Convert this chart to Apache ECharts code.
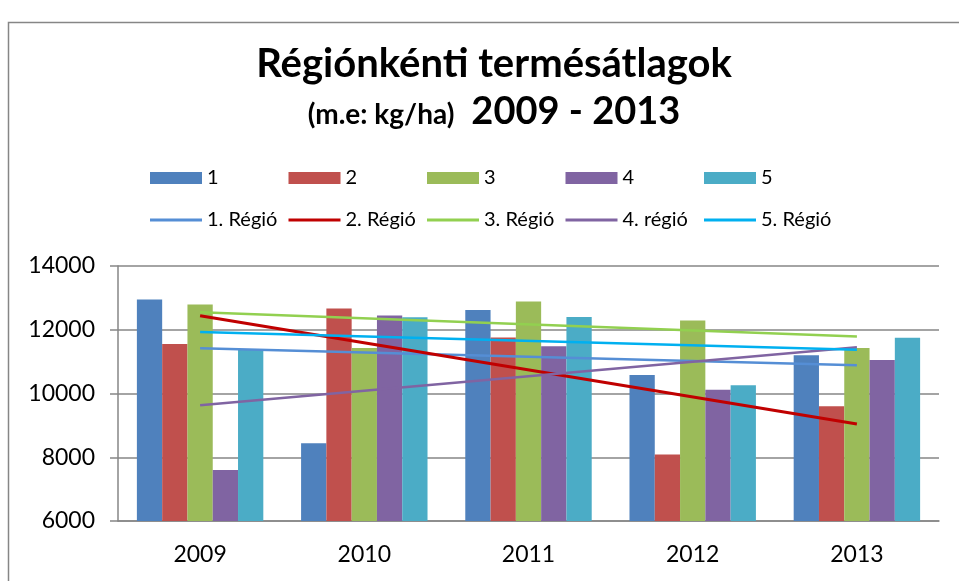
<!DOCTYPE html>
<html>
<head>
<meta charset="utf-8">
<script src="https://cdn.jsdelivr.net/npm/echarts@6/dist/echarts.min.js"></script>
<style>
html, body { margin: 0; padding: 0; background: #fff; }
#main { width: 959px; height: 581px; }
</style>
</head>
<body>
<div id="main"></div>
<script>
// evek (kategoriak)
var years = ['2009', '2010', '2011', '2012', '2013'];

// regionkenti termesatlagok, kg/ha
var reg1 = [12950, 8440, 12620, 10580, 11200];
var reg2 = [11550, 12670, 11760, 8090, 9600];
var reg3 = [12790, 11430, 12890, 12290, 11430];
var reg4 = [7600, 12450, 11480, 10120, 11050];
var reg5 = [11390, 12390, 12400, 10260, 11750];

// trendvonalak vegpontjai (2009 es 2013), a kozbulso evek ures
var trend1 = [11420, null, null, null, 10890];
var trend2 = [12440, null, null, null, 9040];
var trend3 = [12550, null, null, null, 11790];
var trend4 = [9630, null, null, null, 11450];
var trend5 = [11930, null, null, null, 11370];

var barNames = ['1', '2', '3', '4', '5'];
var trendNames = ['1. Régió', '2. Régió', '3. Régió', '4. régió', '5. Régió'];

var barColors = ['#4F81BD', '#C0504D', '#9BBB59', '#8064A2', '#4BACC6'];
var trendColors = ['#558ED5', '#C00000', '#92D050', '#8064A2', '#00B0F0'];

var font = 'Lato';
var gray = '#868686';

var myChart = echarts.init(document.getElementById('main'));

var barData = [reg1, reg2, reg3, reg4, reg5];
var trendData = [trend1, trend2, trend3, trend4, trend5];

var series = [];
for (var i = 0; i < barData.length; i++) {
	series.push({
		name: barNames[i],
		type: 'bar',
		data: barData[i],
		barGap: 0,
		barCategoryGap: '23%',
		itemStyle: { color: barColors[i] }
	});
}
for (var j = 0; j < trendData.length; j++) {
	series.push({
		name: trendNames[j],
		type: 'line',
		data: trendData[j],
		connectNulls: true,
		symbol: 'none',
		z: 5,
		lineStyle: { color: trendColors[j], width: j == 1 ? 3 : 2.5 },
		itemStyle: { color: trendColors[j] }
	});
}

// legend: minden tetel kulon, egyforma lepeskozzel (mint az Excelben)
var legends = [];
var legendStep = 138.5;
for (var k = 0; k < 5; k++) {
	legends.push({
		data: [barNames[k]],
		left: 150 + k * legendStep,
		top: 168,
		padding: 0,
		itemWidth: 52,
		itemHeight: 12,
		icon: 'rect',
		textStyle: { fontFamily: font, fontSize: 20, color: '#000' }
	});
	legends.push({
		data: [trendNames[k]],
		left: 150 + k * legendStep,
		top: 210,
		padding: 0,
		itemWidth: 52,
		itemHeight: 3,
		icon: 'rect',
		textStyle: { fontFamily: font, fontSize: 20, color: '#000' }
	});
}

var option = {
	animation: false,
	backgroundColor: '#fff',
	title: [{
		text: 'Régiónkénti termésátlagok',
		left: 489,
		textAlign: 'center',
		top: 39,
		textStyle: { fontFamily: font, fontSize: 40, fontWeight: 'bold', color: '#000' }
	}, {
		text: '{a|(m.e: kg/ha)}{b|2009 - 2013}',
		left: 489,
		textAlign: 'center',
		top: 88,
		textStyle: {
			fontFamily: font,
			rich: {
				a: { fontFamily: font, fontSize: 28, fontWeight: 'bold', color: '#000', verticalAlign: 'bottom', padding: [0, 0, 2, 0] },
				b: { fontFamily: font, fontSize: 38, fontWeight: 'bold', color: '#000', verticalAlign: 'bottom', padding: [0, 0, 0, 17] }
			}
		}
	}],
	legend: legends,
	grid: {
		left: 118,
		right: 20,
		top: 266,
		bottom: 60
	},
	xAxis: {
		type: 'category',
		data: years,
		axisLine: { lineStyle: { color: gray, width: 1.5 } },
		axisTick: { length: 8, lineStyle: { color: gray, width: 1.5 } },
		axisLabel: { fontFamily: font, fontSize: 23, color: '#000', margin: 22 }
	},
	yAxis: {
		type: 'value',
		min: 6000,
		max: 14000,
		interval: 2000,
		axisLine: { show: true, lineStyle: { color: gray, width: 1.5 } },
		axisTick: { show: true, length: 8, lineStyle: { color: gray, width: 1.5 } },
		axisLabel: {
			fontFamily: font, fontSize: 23, color: '#000', margin: 23,
			formatter: function (v) { return String(v); }
		},
		splitLine: { lineStyle: { color: gray, width: 1.5 } }
	},
	graphic: [{
		type: 'rect',
		shape: { x: 8.5, y: 22.5, width: 1000, height: 700 },
		style: { fill: null, stroke: gray, lineWidth: 1.5 },
		silent: true
	}],
	series: series
};

myChart.setOption(option);
</script>
</body>
</html>
